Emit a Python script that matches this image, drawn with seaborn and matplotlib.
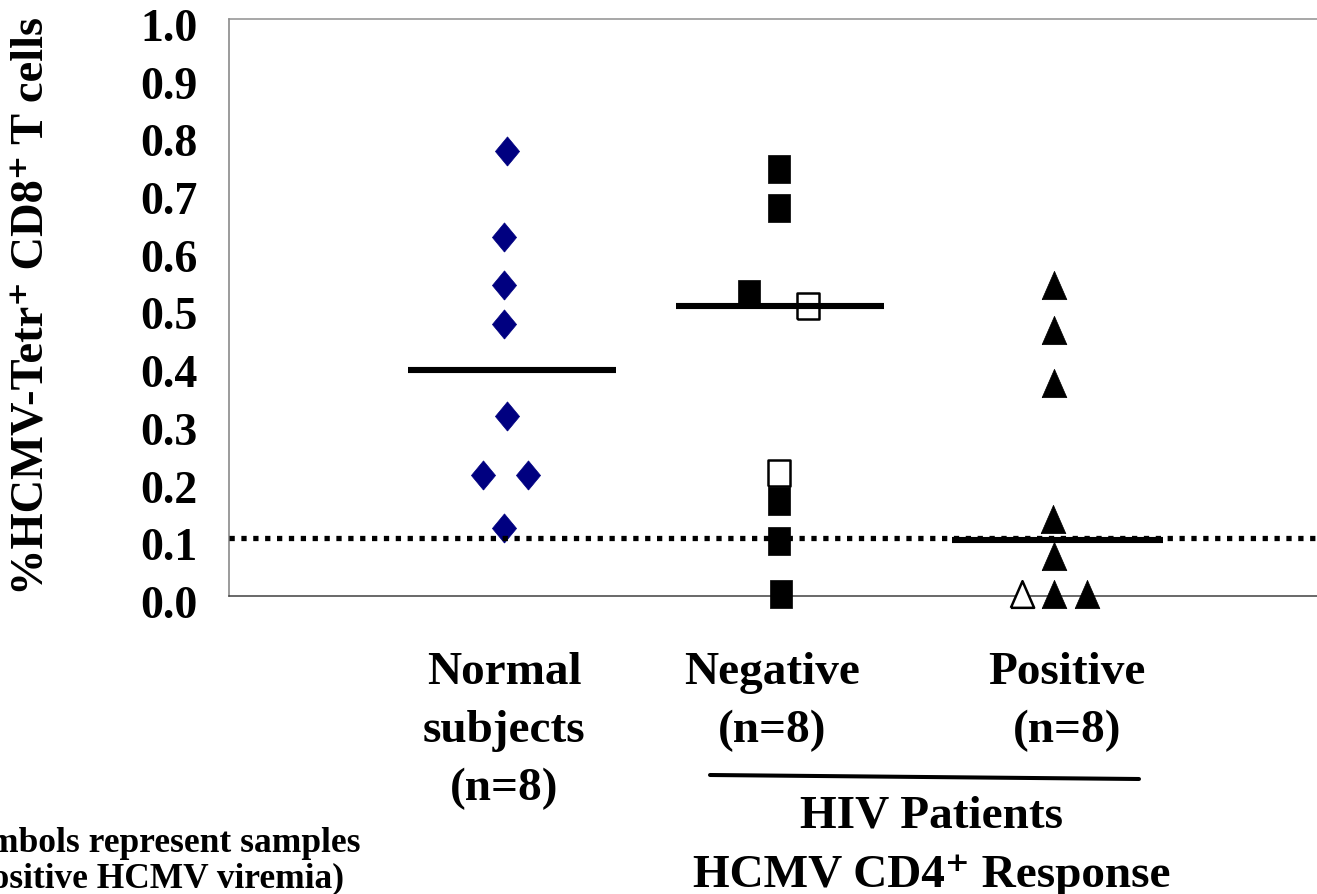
import numpy as np
import pandas as pd
import matplotlib
matplotlib.use("Agg")
import matplotlib.pyplot as plt
import matplotlib.transforms as mtransforms
import seaborn as sns
from matplotlib.lines import Line2D

# ---------------- data ----------------
groups = ["Normal", "Negative", "Positive"]
group_pos = [1, 2, 3]

normal_vals = [0.772, 0.622, 0.539, 0.471, 0.312, 0.210, 0.210, 0.118]
normal_dx = [0.01, 0.0, 0.0, 0.0, 0.01, -0.076, 0.088, 0.0]
normal_open = [False] * 8

negative_vals = [0.740, 0.672, 0.523, 0.503, 0.213, 0.164, 0.096, 0.003]
negative_dx = [0.0, 0.0, -0.11, 0.107, 0.0, 0.0, 0.0, 0.006]
negative_open = [False, False, False, True, True, False, False, False]

positive_vals = [0.539, 0.461, 0.370, 0.133, 0.069, 0.003, 0.003, 0.003]
positive_dx = [0.0, 0.0, 0.0, -0.005, 0.0, -0.115, 0.0, 0.12]
positive_open = [False, False, False, False, False, True, False, False]

group_means = [0.392, 0.503, 0.097]
detection_limit = 0.1
yticks = [0.0, 0.1, 0.2, 0.3, 0.4, 0.5, 0.6, 0.7, 0.8, 0.9, 1.0]

group_labels = [["Normal", "subjects", "(n=8)"],
                ["Negative", "(n=8)"],
                ["Positive", "(n=8)"]]
ylabel = "%HCMV-Tetr\u207a CD8\u207a T cells"
bracket_lines = ["HIV Patients", "HCMV CD4\u207a Response"]
footnote_lines = ["(Open symbols represent samples", "with positive HCMV viremia)"]

rows = []
for g, p, vals, dx, op in zip(groups, group_pos,
                              [normal_vals, negative_vals, positive_vals],
                              [normal_dx, negative_dx, positive_dx],
                              [normal_open, negative_open, positive_open]):
    for v, d, o in zip(vals, dx, op):
        rows.append({"group": g, "x": p + d, "value": v, "open": o})
df = pd.DataFrame(rows)

# ---------------- style ----------------
sns.set_style("white")
plt.rcParams["font.family"] = ["Liberation Serif", "DejaVu Serif"]
plt.rcParams["font.weight"] = "bold"
plt.rcParams["text.color"] = "black"
plt.rcParams["xtick.labelcolor"] = "black"
plt.rcParams["ytick.labelcolor"] = "black"

W, H = 1317, 895
fig = plt.figure(figsize=(W / 100, H / 100), dpi=100)
ax = fig.add_axes([229 / W, 1 - 597 / H, 1100 / W, 577 / H])

diamond = [(0, -14.5), (12, 0), (0, 14.5), (-12, 0), (0, -14.5)]
square = [(-11.3, -13.8), (11.3, -13.8), (11.3, 13.8), (-11.3, 13.8), (-11.3, -13.8)]
triangle = [(-12.4, -14.2), (12.4, -14.2), (0, 14.2), (-12.4, -14.2)]

markers = {"Normal": (diamond, 21.0), "Negative": (square, 20.0), "Positive": (triangle, 20.4)}

for g in groups:
    verts, ms = markers[g]
    sub = df[df.group == g]
    filled = sub[~sub["open"]]
    opened = sub[sub["open"]]
    fc = "#000080" if g == "Normal" else "black"
    if len(filled):
        sns.scatterplot(data=filled, x="x", y="value", marker=verts, s=ms ** 2,
                        color=fc, edgecolor=fc, linewidth=0.5, ax=ax,
                        clip_on=False, zorder=3, legend=False)
    if len(opened):
        sns.scatterplot(data=opened, x="x", y="value", marker=verts, s=(ms - 1.2) ** 2,
                        color="white", edgecolor="black", linewidth=1.8, ax=ax,
                        clip_on=False, zorder=3, legend=False)

# mean lines
spans = [(0.651, 1.407), (1.625, 2.382), (2.629, 3.396)]
for m, (a, b) in zip(group_means, spans):
    ax.plot([a, b], [m, m], color="black", lw=4.4, solid_capstyle="butt", zorder=4)

# detection limit
ax.axhline(detection_limit, color="black", lw=3.8, dashes=(1, 1.25),
           dash_capstyle="butt", zorder=5)

ax.set_xlim(0, 4)
ax.set_ylim(0, 1.0)
ax.set_yticks(yticks)
ax.set_yticklabels([f"{t:.1f}" for t in yticks])
ax.set_xticks([0, 1, 2, 3, 4])
ax.set_xticklabels([])
ax.set_xlabel("")
ax.set_ylabel("")
ax.tick_params(axis="y", direction="out", length=8.6, width=1.1, color="#808080",
               pad=14, labelsize=33, labelcolor="black")
ax.tick_params(axis="x", direction="out", length=9, width=1.1, color="#404040",
               pad=2)
offset = mtransforms.ScaledTranslation(0, -5 / 100, fig.dpi_scale_trans)
for lab in ax.get_yticklabels():
    lab.set_fontweight("bold")
    lab.set_transform(lab.get_transform() + offset)

ax.spines["right"].set_visible(False)
ax.spines["left"].set_color("#808080")
ax.spines["top"].set_color("#909090")
ax.spines["bottom"].set_color("#404040")
for s in ["left", "top", "bottom"]:
    ax.spines[s].set_linewidth(1.1)

# y label
fig.text(33 / W, 1 - 306 / H, ylabel, rotation=90, ha="center", va="center",
         fontsize=33.5, fontweight="bold")

# category labels
label_x = [504, 772, 1067]
for xc, lines in zip(label_x, group_labels):
    for i, t in enumerate(lines):
        fig.text(xc / W, 1 - (684 + 58 * i) / H, t, ha="center", va="baseline",
                 fontsize=34, fontweight="bold")

# bracket
fig.add_artist(Line2D([710 / W, 1139 / W], [1 - 776 / H, 1 - 780 / H],
                      color="black", lw=2.9, transform=fig.transFigure))
fig.text(931 / W, 1 - 828 / H, bracket_lines[0], ha="center", va="baseline",
         fontsize=34, fontweight="bold")
fig.text(932 / W, 1 - 887 / H, bracket_lines[1], ha="center", va="baseline",
         fontsize=34, fontweight="bold")

# footnote (partly outside the canvas, as in the reference)
fig.text(360 / W, 1 - 852 / H, footnote_lines[0], ha="right", va="baseline",
         fontsize=25.5, fontweight="bold")
fig.text(344 / W, 1 - 888 / H, footnote_lines[1], ha="right", va="baseline",
         fontsize=25.5, fontweight="bold")

fig.savefig("out.png", dpi=100)
